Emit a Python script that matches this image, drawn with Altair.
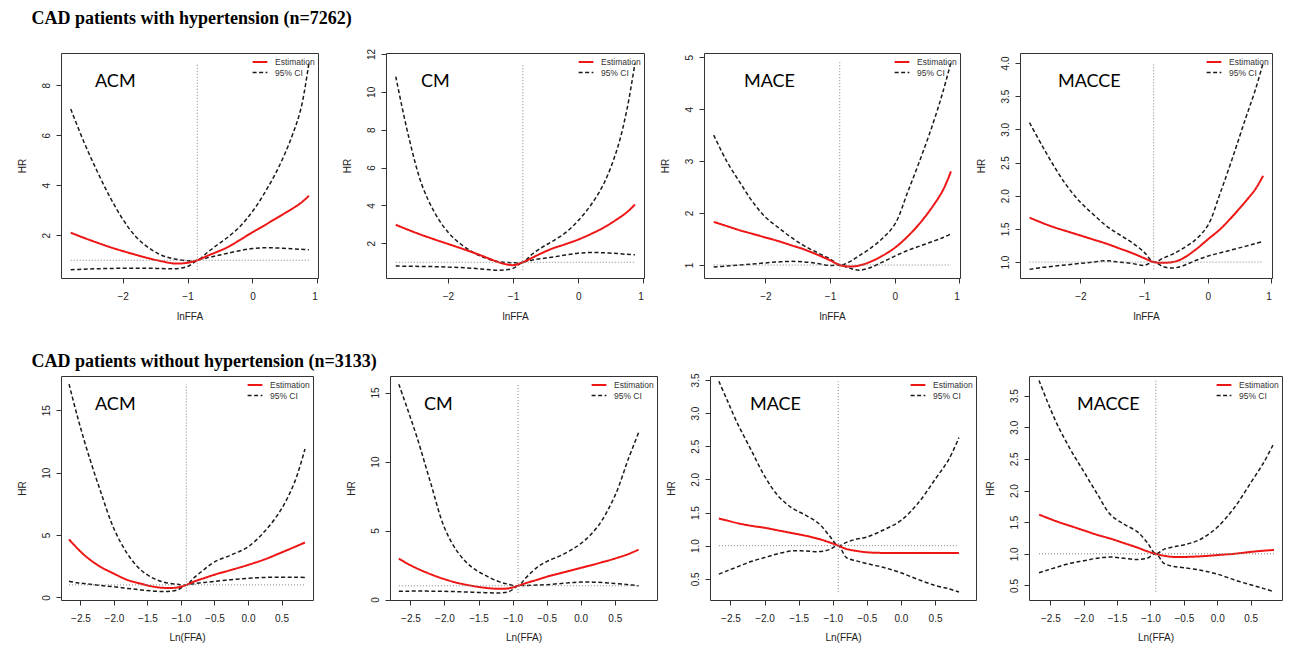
import altair as alt
import pandas as pd

# ---------------- data ----------------
TOP_X = [-2.8, -2.6, -2.4, -2.2, -2.0, -1.8, -1.6, -1.4, -1.2, -1.0, -0.85,
         -0.7, -0.55, -0.4, -0.2, 0.0, 0.2, 0.4, 0.6, 0.75, 0.87]
BOT_X = [-2.67, -2.55, -2.4, -2.2, -2.0, -1.8, -1.6, -1.4, -1.2, -1.05, -0.92,
         -0.8, -0.65, -0.5, -0.25, 0.0, 0.25, 0.5, 0.7, 0.85]

# CAD patients with hypertension
h_acm_est = [2.1, 1.9, 1.71, 1.53, 1.37, 1.22, 1.08, 0.96, 0.87, 0.9, 1.0,
             1.17, 1.33, 1.5, 1.8, 2.12, 2.42, 2.73, 3.04, 3.3, 3.58]
h_acm_lo = [0.62, 0.64, 0.66, 0.67, 0.68, 0.68, 0.68, 0.67, 0.66, 0.75, 1.0,
            1.1, 1.18, 1.27, 1.38, 1.47, 1.5, 1.49, 1.46, 1.44, 1.42]
h_acm_hi = [7.05, 5.75, 4.6, 3.55, 2.65, 1.95, 1.5, 1.2, 1.05, 0.98, 1.0,
            1.3, 1.6, 1.88, 2.33, 2.95, 3.75, 4.7, 5.9, 7.1, 8.9]

h_cm_est = [2.98, 2.7, 2.44, 2.2, 1.97, 1.74, 1.5, 1.24, 0.98, 0.85, 1.0,
            1.25, 1.5, 1.72, 1.95, 2.2, 2.5, 2.85, 3.28, 3.65, 4.05]
h_cm_lo = [0.8, 0.79, 0.78, 0.77, 0.75, 0.72, 0.68, 0.62, 0.58, 0.68, 1.0,
           1.12, 1.2, 1.27, 1.38, 1.48, 1.52, 1.5, 1.46, 1.42, 1.4]
h_cm_hi = [10.8, 7.6, 5.1, 3.6, 2.6, 1.95, 1.5, 1.2, 1.02, 0.98, 1.0,
           1.45, 1.8, 2.1, 2.55, 3.2, 4.05, 5.2, 7.0, 9.1, 11.5]

h_mace_est = [1.83, 1.75, 1.67, 1.6, 1.53, 1.46, 1.38, 1.3, 1.2, 1.09, 1.0,
              0.97, 0.99, 1.05, 1.17, 1.33, 1.55, 1.82, 2.15, 2.45, 2.8]
h_mace_lo = [0.96, 0.98, 1.0, 1.02, 1.04, 1.06, 1.07, 1.06, 1.03, 0.99, 1.0,
             0.94, 0.9, 0.94, 1.05, 1.17, 1.28, 1.37, 1.46, 1.53, 1.6]
h_mace_hi = [3.5, 3.0, 2.6, 2.22, 1.92, 1.72, 1.53, 1.37, 1.24, 1.12, 1.0,
             1.06, 1.18, 1.3, 1.5, 1.78, 2.4, 3.05, 3.75, 4.35, 4.9]

h_macce_est = [1.67, 1.59, 1.52, 1.46, 1.4, 1.34, 1.28, 1.21, 1.14, 1.06, 1.0,
               0.99, 1.0, 1.05, 1.18, 1.34, 1.5, 1.7, 1.92, 2.1, 2.3]
h_macce_lo = [0.89, 0.92, 0.94, 0.96, 0.98, 1.0, 1.02, 1.0, 0.98, 0.95, 1.0,
              0.93, 0.91, 0.94, 1.02, 1.09, 1.14, 1.19, 1.24, 1.28, 1.31]
h_macce_hi = [3.1, 2.75, 2.42, 2.13, 1.9, 1.72, 1.55, 1.42, 1.3, 1.15, 1.0,
              1.06, 1.12, 1.2, 1.33, 1.55, 2.05, 2.6, 3.18, 3.6, 4.0]

# CAD patients without hypertension
n_acm_est = [4.65, 3.95, 3.2, 2.45, 1.9, 1.4, 1.1, 0.85, 0.75, 0.8, 1.0,
             1.28, 1.55, 1.82, 2.2, 2.6, 3.05, 3.6, 4.05, 4.4]
n_acm_lo = [1.3, 1.18, 1.08, 0.95, 0.85, 0.72, 0.6, 0.5, 0.47, 0.6, 1.0,
            1.1, 1.2, 1.28, 1.42, 1.53, 1.6, 1.62, 1.61, 1.6]
n_acm_hi = [17.1, 14.6, 11.8, 8.5, 5.5, 3.5, 2.2, 1.5, 1.15, 1.05, 1.0,
            1.6, 2.25, 2.85, 3.4, 4.05, 5.3, 7.1, 9.3, 11.9]

n_cm_est = [2.97, 2.62, 2.25, 1.83, 1.48, 1.2, 1.0, 0.85, 0.78, 0.82, 1.0,
            1.2, 1.42, 1.65, 1.97, 2.3, 2.62, 2.97, 3.3, 3.62]
n_cm_lo = [0.6, 0.61, 0.62, 0.61, 0.6, 0.57, 0.54, 0.5, 0.48, 0.58, 1.0,
           1.02, 1.05, 1.08, 1.18, 1.27, 1.25, 1.17, 1.08, 1.0]
n_cm_hi = [15.6, 13.9, 11.7, 8.4, 5.2, 3.4, 2.35, 1.75, 1.3, 1.1, 1.0,
           1.6, 2.3, 2.75, 3.3, 4.05, 5.3, 7.5, 10.2, 12.1]

n_mace_est = [1.41, 1.38, 1.34, 1.3, 1.27, 1.23, 1.19, 1.15, 1.1, 1.05, 1.0,
              0.95, 0.92, 0.9, 0.89, 0.89, 0.89, 0.89, 0.89, 0.89]
n_mace_lo = [0.57, 0.62, 0.68, 0.76, 0.82, 0.88, 0.92, 0.92, 0.91, 0.94, 1.0,
             0.82, 0.77, 0.73, 0.67, 0.59, 0.49, 0.4, 0.35, 0.3]
n_mace_hi = [3.48, 3.2, 2.85, 2.45, 2.05, 1.75, 1.57, 1.46, 1.33, 1.15, 1.0,
             1.05, 1.1, 1.13, 1.24, 1.38, 1.64, 2.0, 2.3, 2.63]

n_macce_est = [1.62, 1.57, 1.51, 1.44, 1.37, 1.3, 1.24, 1.17, 1.1, 1.04, 1.0,
               0.97, 0.95, 0.95, 0.96, 0.98, 1.0, 1.03, 1.05, 1.06]
n_macce_lo = [0.7, 0.74, 0.79, 0.85, 0.89, 0.93, 0.95, 0.93, 0.91, 0.93, 1.0,
              0.85, 0.8, 0.78, 0.74, 0.68, 0.59, 0.51, 0.45, 0.4]
n_macce_hi = [3.74, 3.42, 3.05, 2.65, 2.3, 1.95, 1.62, 1.47, 1.35, 1.18, 1.0,
              1.07, 1.11, 1.14, 1.23, 1.42, 1.72, 2.12, 2.45, 2.75]

SERIES = ["Estimation", "95% CI"]
TOP_XTICKS = [-2, -1, 0, 1]
BOT_XTICKS = [-2.5, -2.0, -1.5, -1.0, -0.5, 0.0, 0.5]

ROW_TITLES = ["CAD patients with hypertension (n=7262)",
              "CAD patients without hypertension (n=3133)"]

# ---------------- styling ----------------
SANS = "Liberation Sans"
SERIF = "Liberation Serif"
RED = "#ee1515"
INK = "#1a1a1a"
AXC = "#333333"


def make_panel(name, xs, est, lo, hi, ref_x, xdom, ydom, yticks, yfmt,
               xticks, xfmt, xtitle, w, h, lab_dx, lab_dy, xlab_pad, xtitle_pad):
    rows = []
    for x, e, l, u in zip(xs, est, lo, hi):
        rows.append({"x": x, "hr": e, "series": "Estimation", "part": "est"})
        rows.append({"x": x, "hr": l, "series": "95% CI", "part": "lower"})
        rows.append({"x": x, "hr": u, "series": "95% CI", "part": "upper"})
    df = pd.DataFrame(rows)

    xscale = alt.Scale(domain=xdom, nice=False, zero=False)
    yscale = alt.Scale(domain=ydom, nice=False, zero=False)
    xaxis = alt.Axis(title=xtitle, values=xticks, format=xfmt, labelOverlap=False,
                     tickCount=30, labelPadding=xlab_pad, titlePadding=xtitle_pad)
    yaxis = alt.Axis(title="HR", values=yticks, format=yfmt, labelAngle=270,
                     labelAlign="center", labelBaseline="bottom", labelOverlap=False,
                     tickCount=30, labelPadding=5, titlePadding=14)
    leg = alt.Legend(title=None, orient="top-right", offset=3, padding=0,
                     labelFont=SANS, labelFontSize=8.5, labelColor=AXC,
                     symbolType="M-1.6,0H1.6", symbolSize=85, symbolStrokeWidth=1.5,
                     rowPadding=0, labelOffset=9)
    color = alt.Color("series:N", scale=alt.Scale(domain=SERIES, range=[RED, INK]),
                      legend=leg)
    dash = alt.StrokeDash("series:N",
                          scale=alt.Scale(domain=SERIES, range=[[1, 0], [4, 2.5]]),
                          legend=leg)
    sw = alt.StrokeWidth("series:N", scale=alt.Scale(domain=SERIES, range=[2.0, 1.5]),
                         legend=None)
    X = alt.X("x:Q", scale=xscale, axis=xaxis)
    Y = alt.Y("hr:Q", scale=yscale, axis=yaxis)

    one = pd.DataFrame({"k": [0]})
    ci = alt.Chart(df).transform_filter(alt.datum.part != "est").mark_line(
        interpolate="catmull-rom").encode(x=X, y=Y, color=color, strokeDash=dash,
                                          strokeWidth=sw, detail="part:N")
    es = alt.Chart(df).transform_filter(alt.datum.part == "est").mark_line(
        interpolate="catmull-rom").encode(x=X, y=Y, color=color, strokeDash=dash,
                                          strokeWidth=sw, detail="part:N")
    hline = alt.Chart(one).mark_rule(color="#808080", strokeDash=[1, 2], strokeWidth=1).encode(
        x=alt.datum(xs[0]), x2=alt.datum(xs[-1]), y=alt.datum(1.0))
    vline = alt.Chart(one).mark_rule(color="#808080", strokeDash=[1, 2], strokeWidth=1).encode(
        x=alt.datum(ref_x), y=alt.datum(min(lo)), y2=alt.datum(max(hi)))
    lab = alt.Chart(pd.DataFrame({"name": [name]})).mark_text(
        align="left", baseline="middle", font="Lato", fontSize=18, color="black"
    ).encode(x=alt.value(lab_dx), y=alt.value(lab_dy), text="name:N")
    return alt.layer(ci, es, hline, vline, lab).properties(width=w, height=h)


TOPDOM = [-2.95, 1.01]
top = dict(xs=TOP_X, xticks=TOP_XTICKS, xfmt="d", xtitle="lnFFA", h=225,
           lab_dy=29, xlab_pad=8, xtitle_pad=10)
bot = dict(xs=BOT_X, xticks=BOT_XTICKS, xfmt=".1f", xtitle="Ln(FFA)", h=224,
           lab_dy=29, xlab_pad=8, xtitle_pad=9)

p1 = make_panel("ACM", est=h_acm_est, lo=h_acm_lo, hi=h_acm_hi, ref_x=-0.85,
                xdom=TOPDOM, ydom=[0.29, 9.29], yticks=[2, 4, 6, 8], yfmt="d",
                w=257, lab_dx=34, **top)
p2 = make_panel("CM", est=h_cm_est, lo=h_cm_lo, hi=h_cm_hi, ref_x=-0.85,
                xdom=TOPDOM, ydom=[0.17, 12.05], yticks=[2, 4, 6, 8, 10, 12], yfmt="d",
                w=258, lab_dx=35, **top)
p3 = make_panel("MACE", est=h_mace_est, lo=h_mace_lo, hi=h_mace_hi, ref_x=-0.85,
                xdom=TOPDOM, ydom=[0.75, 5.08], yticks=[1, 2, 3, 4, 5], yfmt="d",
                w=256, lab_dx=40, **top)
p4 = make_panel("MACCE", est=h_macce_est, lo=h_macce_lo, hi=h_macce_hi, ref_x=-0.85,
                xdom=TOPDOM, ydom=[0.76, 4.15],
                yticks=[1.0, 1.5, 2.0, 2.5, 3.0, 3.5, 4.0], yfmt=".1f",
                w=252, lab_dx=38, **top)

p5 = make_panel("ACM", est=n_acm_est, lo=n_acm_lo, hi=n_acm_hi, ref_x=-0.92,
                xdom=[-2.79, 0.97], ydom=[-0.21, 17.75], yticks=[0, 5, 10, 15], yfmt="d",
                w=252, lab_dx=34, **bot)
p6 = make_panel("CM", est=n_cm_est, lo=n_cm_lo, hi=n_cm_hi, ref_x=-0.92,
                xdom=[-2.8, 1.12], ydom=[-0.03, 16.2], yticks=[0, 5, 10, 15], yfmt="d",
                w=267, lab_dx=34, **bot)
p7 = make_panel("MACE", est=n_mace_est, lo=n_mace_lo, hi=n_mace_hi, ref_x=-0.92,
                xdom=[-2.8, 1.1], ydom=[0.18, 3.56],
                yticks=[0.5, 1.0, 1.5, 2.0, 2.5, 3.0, 3.5], yfmt=".1f",
                w=266, lab_dx=40, **bot)
p8 = make_panel("MACCE", est=n_macce_est, lo=n_macce_lo, hi=n_macce_hi, ref_x=-0.92,
                xdom=[-2.82, 0.97], ydom=[0.27, 3.81],
                yticks=[0.5, 1.0, 1.5, 2.0, 2.5, 3.0, 3.5], yfmt=".1f",
                w=253, lab_dx=48, **bot)


def indep(c):
    return c.resolve_scale(color="independent", strokeDash="independent",
                           strokeWidth="independent").resolve_legend(
        color="independent", strokeDash="independent")


def row_title(t, offset, dy):
    return alt.TitleParams(text=t, anchor="start", font=SERIF, fontSize=18,
                           fontWeight="bold", color="black", dx=15, dy=dy,
                           offset=offset)


row1 = indep(alt.hconcat(p1, indep(alt.hconcat(p2, p3, p4, spacing=14)), spacing=22,
                         title=row_title(ROW_TITLES[0], 20, 0)))
row2 = indep(alt.hconcat(p5, indep(alt.hconcat(p6, p7, p8, spacing=7)), spacing=31,
                         title=row_title(ROW_TITLES[1], 4, 2)))

chart = indep(alt.vconcat(row1, row2, spacing=30)).properties(
    padding={"left": 8, "top": 1, "right": 0, "bottom": 0},
    background="white",
).configure_view(stroke=AXC, strokeWidth=1).configure_axis(
    domain=False, grid=False, tickColor=AXC, tickSize=5, tickWidth=1,
    labelFont=SANS, labelFontSize=10, labelColor="#222222", labelOverlap=False,
    titleFont=SANS, titleFontSize=10, titleFontWeight="normal", titleColor="#222222",
).configure_concat(spacing=20)

chart.save("out.html", embed_options={"renderer": "svg", "actions": False})
